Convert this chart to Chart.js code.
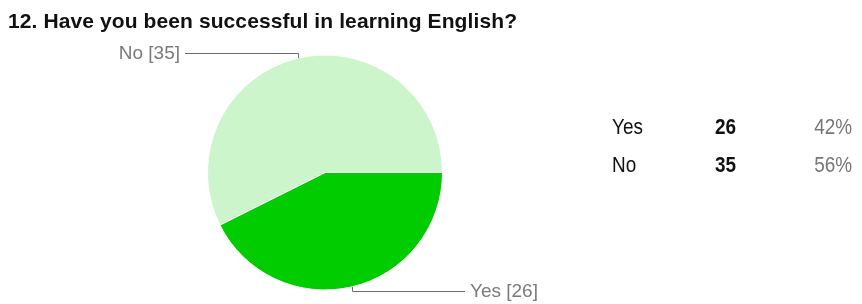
<!DOCTYPE html>
<html>
<head>
<meta charset="utf-8">
<script src="https://cdn.jsdelivr.net/npm/chart.js@4/dist/chart.umd.min.js"></script>
<style>
  html, body { margin:0; padding:0; background:#fff; }
  #wrap { position:relative; width:862px; height:304px; overflow:hidden; font-family:"Liberation Sans", Arial, sans-serif; }
  #title { position:absolute; left:8px; top:10px; font-size:21px; line-height:21px; font-weight:bold; color:#111; white-space:nowrap; letter-spacing:0.1px; }
  #chartBox { position:absolute; left:0; top:0; width:862px; height:304px; }
  .cell { position:absolute; font-size:22px; line-height:22px; white-space:nowrap; transform:scaleX(0.86); }
</style>
</head>
<body>
<div id="wrap">
  <div id="chartBox"><canvas id="c" width="862" height="304"></canvas></div>
  <div id="title"></div>
  <div id="table"></div>
</div>
<script>
const titleText = '12. Have you been successful in learning English?';
const categories = ['Yes', 'No'];
const counts = [26, 35];
const percentLabels = ['42%', '56%'];
const sliceColors = ['#00CC00', '#CCF5CC'];

document.getElementById('title').textContent = titleText;

// summary table (HTML text)
const table = document.getElementById('table');
const rowTops = [116, 154];
categories.forEach((cat, i) => {
  const a = document.createElement('div');
  a.className = 'cell'; a.style.left = '612px'; a.style.top = rowTops[i] + 'px'; a.style.color = '#111';
  a.style.transformOrigin = 'left center';
  a.textContent = cat; table.appendChild(a);
  const b = document.createElement('div');
  b.className = 'cell'; b.style.left = '715px'; b.style.top = rowTops[i] + 'px'; b.style.fontWeight = 'bold'; b.style.color = '#111';
  b.style.transformOrigin = 'left center';
  b.textContent = String(counts[i]); table.appendChild(b);
  const c = document.createElement('div');
  c.className = 'cell'; c.style.right = (862 - 852) + 'px'; c.style.top = rowTops[i] + 'px'; c.style.color = '#777';
  c.style.transformOrigin = 'right center';
  c.textContent = percentLabels[i]; table.appendChild(c);
});

const calloutPlugin = {
  id: 'callouts',
  afterDatasetsDraw(chart) {
    const ctx = chart.ctx;
    const meta = chart.getDatasetMeta(0);
    ctx.save();
    ctx.strokeStyle = '#6e6e6e';
    ctx.lineWidth = 1;
    ctx.fillStyle = '#7a7a7a';
    ctx.font = '19px "Liberation Sans", Arial, sans-serif';
    ctx.textBaseline = 'middle';
    meta.data.forEach((arc, i) => {
      const p = arc.getProps(['x', 'y', 'startAngle', 'endAngle', 'outerRadius'], true);
      const mid = (p.startAngle + p.endAngle) / 2;
      const ex = p.x + Math.cos(mid) * p.outerRadius;
      const ey = p.y + Math.sin(mid) * p.outerRadius;
      const up = ey < p.y;
      const right = ex > p.x;
      const ey2 = ey + (up ? -5 : 4);
      const ex2 = ex + (right ? 113 : -113);
      ctx.beginPath();
      ctx.moveTo(Math.round(ex) + 0.5, ey);
      ctx.lineTo(Math.round(ex) + 0.5, Math.round(ey2) + 0.5);
      ctx.lineTo(ex2, Math.round(ey2) + 0.5);
      ctx.stroke();
      const label = categories[i] + ' [' + counts[i] + ']';
      ctx.textAlign = right ? 'left' : 'right';
      ctx.fillText(label, ex2 + (right ? 5 : -5), Math.round(ey2) + 1);
    });
    ctx.restore();
  }
};

new Chart(document.getElementById('c'), {
  type: 'pie',
  data: {
    labels: categories,
    datasets: [{
      data: counts,
      backgroundColor: sliceColors,
      borderColor: '#ffffff',
      borderWidth: 1
    }]
  },
  options: {
    responsive: false,
    animation: false,
    rotation: 90,
    layout: { padding: { left: 207, right: 419, top: 54, bottom: 13 } },
    plugins: {
      legend: { display: false },
      tooltip: { enabled: false },
      title: { display: false }
    }
  },
  plugins: [calloutPlugin]
});
</script>
</body>
</html>
